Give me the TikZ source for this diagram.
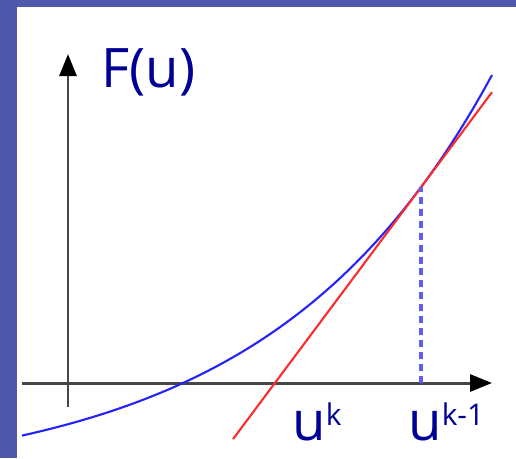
\documentclass[tikz,border=0pt]{standalone}
\usepackage{fontspec}
\setmainfont{Open Sans}
\usepackage{tikz}
\usetikzlibrary{arrows.meta}
\definecolor{slideblue}{RGB}{80,88,172}
\definecolor{labelnavy}{RGB}{0,0,150}
\definecolor{curveblue}{RGB}{35,35,250}
\definecolor{tangentred}{RGB}{250,45,45}
\definecolor{dropblue}{RGB}{95,95,240}
\definecolor{axisgrey}{RGB}{70,70,70}
\newcommand{\supk}[1]{\raisebox{0.3cm}{\fontsize{17}{17}\selectfont #1}}

\begin{document}
\begin{tikzpicture}[x=0.02cm,y=0.02cm, every node/.style={font=\fontsize{31}{36}\selectfont, text=labelnavy, inner sep=0pt}]
  \tikzstyle{axisline}=[line width=1.7pt, draw=axisgrey, -{Triangle[length=0.44cm,width=0.34cm,color=black]}]
  % slide background
  \fill[slideblue] (-68,-75) rectangle (448,383);
  \fill[white] (-51,-75) rectangle (448,376);
  \useasboundingbox (-68,-75) rectangle (448,383);
  % axes
  \coordinate (xl) at (-46,0);
  \coordinate (xr) at (424,0);
  \coordinate (yb) at (0,-24);
  \coordinate (yt) at (0,329);
  \draw[axisline] (xl) -- (xr);
  \draw[axisline] (yb) -- (yt);
  \node[anchor=base west] (fu) at (33,296) {F(u)};
  % function and tangent
  \draw[curveblue, line width=1.2pt, domain=-46:424, samples=80]
    plot (\x, {60.8*(exp(0.0045*\x)-exp(0.5175))});
  \coordinate (tp) at (353,195.7);
  \coordinate (tfoot) at (353,0);
  \coordinate (tlo) at (165,-56.1);
  \coordinate (thi) at (424,290.8);
  \draw[tangentred, line width=1.2pt] (tlo) -- (thi);
  \draw[dropblue, line width=2pt, dash pattern=on 4pt off 2.8pt] (tfoot) -- (tp);
  % iterates
  \node[anchor=base west] (uk) at (224,-57) {u\supk{k}};
  \node[anchor=base west] (ukm) at (340,-57) {u\supk{k-1}};
\end{tikzpicture}
\end{document}
